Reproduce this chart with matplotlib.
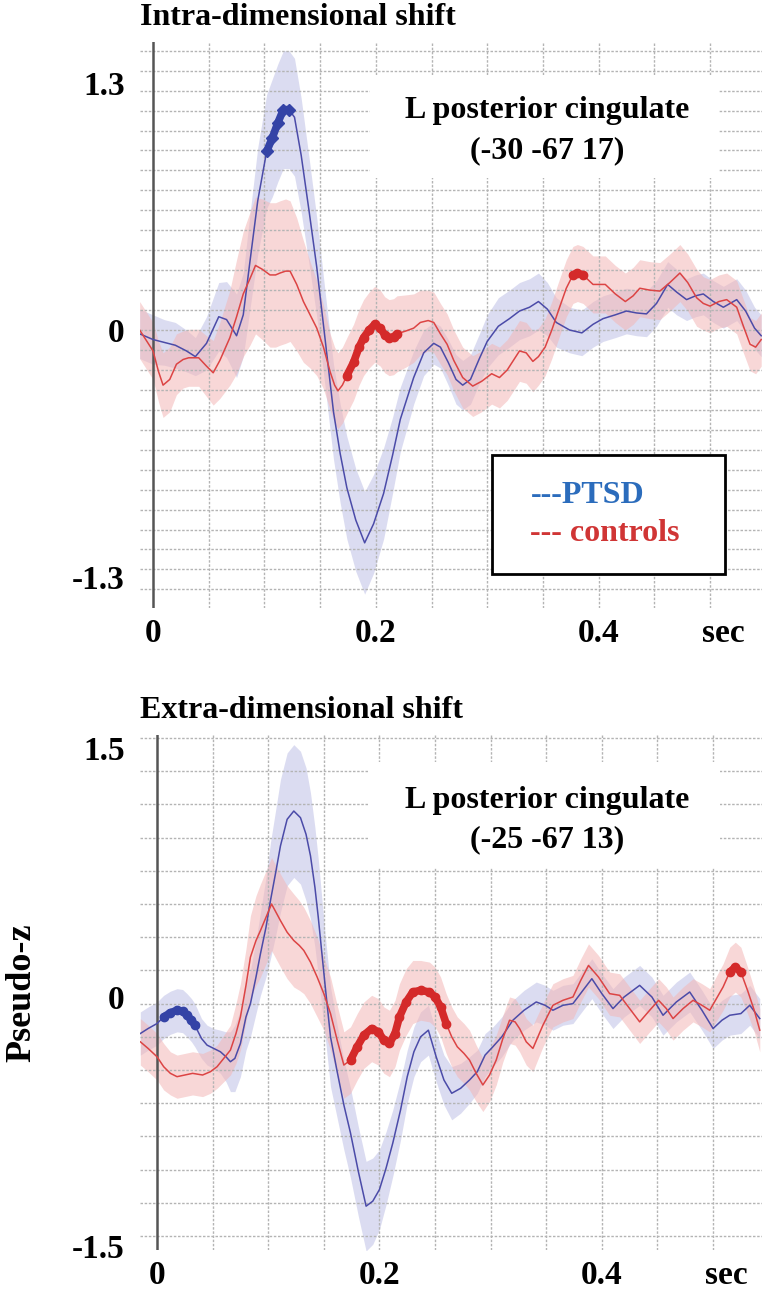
import matplotlib.pyplot as plt
from matplotlib.patches import Rectangle
import numpy as np

plt.rcParams['font.family'] = ['Liberation Serif', 'DejaVu Serif']
plt.rcParams['font.weight'] = 'bold'

# ---------------- Intra-dimensional shift ----------------
ids_ptsd_t = [-0.012, 0.000, 0.010, 0.020, 0.030, 0.038, 0.048, 0.059, 0.066, 0.075,
              0.081, 0.087, 0.094, 0.102, 0.107, 0.112, 0.117, 0.122, 0.127, 0.133,
              0.140, 0.147, 0.155, 0.162, 0.168, 0.174, 0.182, 0.190, 0.198, 0.207,
              0.215, 0.222, 0.234, 0.243, 0.252, 0.258, 0.265, 0.272, 0.278, 0.285,
              0.293, 0.300, 0.310, 0.320, 0.329, 0.338, 0.346, 0.354, 0.362, 0.374,
              0.385, 0.395, 0.404, 0.415, 0.425, 0.434, 0.443, 0.452, 0.462, 0.470,
              0.479, 0.487, 0.494, 0.503, 0.512, 0.518, 0.524, 0.532, 0.540, 0.546]
ids_ptsd_v = [-0.02, -0.05, -0.065, -0.08, -0.11, -0.14, -0.07, 0.07, 0.055, -0.03,
              0.08, 0.36, 0.68, 0.94, 1.01, 1.09, 1.16, 1.16, 1.12, 0.92,
              0.63, 0.33, -0.075, -0.43, -0.65, -0.83, -1.0, -1.12, -1.02, -0.86,
              -0.66, -0.47, -0.25, -0.12, -0.07, -0.09, -0.17, -0.26, -0.29, -0.26,
              -0.15, -0.06, 0.02, 0.06, 0.10, 0.12, 0.15, 0.11, 0.04, 0.0,
              -0.015, 0.03, 0.06, 0.08, 0.10, 0.09, 0.085, 0.14, 0.24, 0.20,
              0.16, 0.18, 0.19, 0.15, 0.12, 0.14, 0.16, 0.10, 0.01, -0.03]
ids_ptsd_se = [0.13, 0.13, 0.12, 0.12, 0.11, 0.10, 0.14, 0.18, 0.20, 0.22,
               0.22, 0.25, 0.28, 0.30, 0.31, 0.31, 0.31, 0.31, 0.31, 0.30,
               0.28, 0.26, 0.25, 0.25, 0.26, 0.27, 0.27, 0.27, 0.26, 0.24,
               0.20, 0.17, 0.14, 0.12, 0.11, 0.11, 0.12, 0.13, 0.13, 0.13,
               0.13, 0.14, 0.15, 0.15, 0.15, 0.15, 0.15, 0.14, 0.13, 0.12,
               0.12, 0.12, 0.12, 0.12, 0.12, 0.12, 0.12, 0.12, 0.12, 0.12,
               0.11, 0.11, 0.11, 0.11, 0.11, 0.11, 0.11, 0.11, 0.11, 0.11]

ids_ctrl_t = [-0.012, 0.000, 0.005, 0.009, 0.015, 0.021, 0.027, 0.032, 0.041, 0.048,
              0.054, 0.060, 0.069, 0.075, 0.081, 0.087, 0.092, 0.098, 0.105, 0.110,
              0.114, 0.119, 0.123, 0.129, 0.135, 0.141, 0.147, 0.153, 0.159, 0.163,
              0.166, 0.170, 0.174, 0.180, 0.185, 0.189, 0.194, 0.199, 0.204, 0.208,
              0.212, 0.216, 0.219, 0.227, 0.234, 0.240, 0.247, 0.252, 0.258, 0.264,
              0.270, 0.278, 0.287, 0.295, 0.304, 0.311, 0.318, 0.329, 0.335, 0.341,
              0.346, 0.352, 0.358, 0.365, 0.371, 0.377, 0.381, 0.386, 0.395, 0.406,
              0.415, 0.424, 0.431, 0.437, 0.446, 0.455, 0.464, 0.473, 0.480, 0.488,
              0.494, 0.500, 0.508, 0.515, 0.524, 0.530, 0.536, 0.541, 0.546]
ids_ctrl_v = [0.0, -0.11, -0.22, -0.29, -0.26, -0.18, -0.155, -0.146, -0.146, -0.19,
              -0.225, -0.16, -0.04, 0.07, 0.19, 0.27, 0.34, 0.32, 0.29, 0.29,
              0.30, 0.31, 0.31, 0.24, 0.15, 0.08, 0.01, -0.09, -0.22, -0.29,
              -0.32, -0.29, -0.24, -0.17, -0.09, -0.04, 0.0, 0.03, 0.01, -0.025,
              -0.04, -0.035, -0.02, -0.005, 0.01, 0.04, 0.05, 0.04, -0.02, -0.075,
              -0.16, -0.25, -0.295, -0.27, -0.23, -0.25, -0.21, -0.11, -0.12, -0.165,
              -0.14, -0.09, 0.0, 0.12, 0.22, 0.29, 0.30, 0.29, 0.24, 0.24,
              0.19, 0.15, 0.18, 0.22, 0.21, 0.205, 0.25, 0.30, 0.25, 0.17,
              0.14, 0.126, 0.15, 0.16, 0.12, 0.02, -0.075, -0.09, -0.05]
ids_ctrl_se = [0.15, 0.15, 0.16, 0.17, 0.17, 0.16, 0.15, 0.15, 0.15, 0.16,
               0.17, 0.20, 0.25, 0.30, 0.33, 0.35, 0.36, 0.37, 0.38, 0.38,
               0.38, 0.38, 0.37, 0.35, 0.32, 0.28, 0.25, 0.22, 0.20, 0.20,
               0.20, 0.20, 0.20, 0.20, 0.20, 0.20, 0.20, 0.20, 0.20, 0.20,
               0.20, 0.20, 0.20, 0.19, 0.18, 0.17, 0.16, 0.16, 0.16, 0.16,
               0.16, 0.16, 0.16, 0.16, 0.16, 0.16, 0.16, 0.16, 0.16, 0.16,
               0.15, 0.15, 0.15, 0.15, 0.15, 0.15, 0.15, 0.15, 0.15, 0.15,
               0.15, 0.15, 0.15, 0.15, 0.15, 0.15, 0.15, 0.15, 0.15, 0.15,
               0.14, 0.14, 0.14, 0.14, 0.14, 0.14, 0.14, 0.14, 0.14]

ids_ptsd_sig = [(0.102, 0.122)]
ids_ctrl_sig = [(0.174, 0.219), (0.377, 0.386)]

# ---------------- Extra-dimensional shift ----------------
eds_ptsd_t = [-0.015, -0.008, 0.000, 0.006, 0.012, 0.018, 0.023, 0.027, 0.031, 0.034,
              0.040, 0.045, 0.051, 0.057, 0.062, 0.066, 0.070, 0.075, 0.080, 0.084,
              0.089, 0.093, 0.098, 0.102, 0.107, 0.111, 0.117, 0.123, 0.129, 0.134,
              0.138, 0.142, 0.145, 0.148, 0.151, 0.156, 0.162, 0.168, 0.174, 0.181,
              0.188, 0.194, 0.200, 0.206, 0.212, 0.219, 0.225, 0.231, 0.237, 0.244,
              0.251, 0.258, 0.265, 0.273, 0.281, 0.288, 0.295, 0.302, 0.310, 0.320,
              0.330, 0.341, 0.349, 0.356, 0.365, 0.374, 0.383, 0.391, 0.400, 0.410,
              0.420, 0.434, 0.445, 0.455, 0.467, 0.479, 0.490, 0.500, 0.508, 0.515,
              0.525, 0.533, 0.542]
eds_ptsd_v = [-0.22, -0.19, -0.16, -0.12, -0.095, -0.08, -0.085, -0.11, -0.14, -0.17,
              -0.25, -0.29, -0.31, -0.33, -0.36, -0.39, -0.37, -0.28, -0.12, -0.04,
              0.12, 0.26, 0.42, 0.58, 0.76, 0.91, 1.07, 1.12, 1.08, 0.98,
              0.85, 0.66, 0.48, 0.28, 0.08, -0.24, -0.45, -0.65, -0.82, -1.05,
              -1.26, -1.23, -1.16, -1.03, -0.88, -0.68, -0.48, -0.33, -0.24, -0.20,
              -0.36, -0.50, -0.58, -0.55, -0.50, -0.45, -0.35, -0.30, -0.24, -0.14,
              -0.08, -0.03, -0.05, -0.08, -0.05, -0.04, 0.04, 0.11, 0.02, -0.07,
              0.0, 0.07, 0.0, -0.11, -0.03, 0.03, -0.08, -0.19, -0.14, -0.11,
              -0.10, -0.05, -0.13]
eds_ptsd_se = [0.13, 0.13, 0.13, 0.13, 0.13, 0.13, 0.13, 0.13, 0.13, 0.13,
               0.12, 0.12, 0.12, 0.13, 0.15, 0.18, 0.20, 0.20, 0.20, 0.20,
               0.22, 0.25, 0.30, 0.35, 0.38, 0.40, 0.40, 0.40, 0.40, 0.40,
               0.38, 0.36, 0.35, 0.33, 0.31, 0.30, 0.28, 0.27, 0.27, 0.27,
               0.27, 0.26, 0.24, 0.22, 0.20, 0.18, 0.16, 0.15, 0.15, 0.15,
               0.15, 0.15, 0.16, 0.15, 0.14, 0.13, 0.13, 0.12, 0.12, 0.12,
               0.12, 0.12, 0.12, 0.12, 0.12, 0.12, 0.12, 0.12, 0.12, 0.12,
               0.12, 0.12, 0.12, 0.12, 0.12, 0.12, 0.12, 0.12, 0.12, 0.12,
               0.12, 0.12, 0.12]

eds_ctrl_t = [-0.015, -0.008, 0.000, 0.006, 0.012, 0.018, 0.025, 0.032, 0.041, 0.048,
              0.054, 0.060, 0.066, 0.071, 0.075, 0.080, 0.084, 0.089, 0.093, 0.098,
              0.103, 0.107, 0.111, 0.117, 0.123, 0.128, 0.132, 0.138, 0.144, 0.150,
              0.156, 0.162, 0.168, 0.174, 0.180, 0.186, 0.193, 0.199, 0.204, 0.209,
              0.214, 0.218, 0.224, 0.230, 0.237, 0.245, 0.250, 0.255, 0.260, 0.265,
              0.270, 0.276, 0.281, 0.287, 0.293, 0.299, 0.305, 0.311, 0.317, 0.322,
              0.326, 0.332, 0.338, 0.347, 0.356, 0.365, 0.374, 0.381, 0.388, 0.397,
              0.407, 0.416, 0.425, 0.434, 0.443, 0.451, 0.458, 0.464, 0.473, 0.482,
              0.490, 0.497, 0.509, 0.515, 0.520, 0.525, 0.531, 0.537, 0.542]
eds_ctrl_v = [-0.27, -0.31, -0.36, -0.42, -0.46, -0.48, -0.47, -0.46, -0.47, -0.45,
              -0.42, -0.37, -0.32, -0.22, -0.12, 0.07, 0.24, 0.34, 0.40, 0.48,
              0.56, 0.51, 0.46, 0.39, 0.34, 0.31, 0.28, 0.21, 0.12, 0.02,
              -0.10, -0.26, -0.41, -0.38, -0.30, -0.23, -0.19, -0.21, -0.26, -0.28,
              -0.22, -0.12, -0.03, 0.03, 0.04, 0.03, 0.0, -0.06, -0.16, -0.24,
              -0.30, -0.34, -0.38, -0.46, -0.53, -0.47, -0.38, -0.25, -0.14, -0.15,
              -0.19, -0.27, -0.31, -0.17, -0.05, -0.02, 0.0, 0.10, 0.19, 0.12,
              0.02, 0.01, -0.07, -0.15, -0.08, -0.02, -0.07, -0.13, -0.07, -0.02,
              -0.05, -0.08, 0.06, 0.15, 0.18, 0.15, 0.04, -0.08, -0.20]
eds_ctrl_se = [0.14, 0.14, 0.14, 0.14, 0.13, 0.13, 0.13, 0.13, 0.13, 0.13,
               0.13, 0.14, 0.15, 0.18, 0.20, 0.22, 0.25, 0.27, 0.28, 0.28,
               0.28, 0.28, 0.28, 0.28, 0.28, 0.27, 0.26, 0.25, 0.24, 0.22,
               0.22, 0.21, 0.20, 0.20, 0.20, 0.20, 0.20, 0.20, 0.20, 0.20,
               0.20, 0.20, 0.20, 0.19, 0.18, 0.18, 0.18, 0.18, 0.18, 0.18,
               0.18, 0.18, 0.18, 0.17, 0.16, 0.16, 0.15, 0.14, 0.14, 0.14,
               0.14, 0.14, 0.14, 0.13, 0.13, 0.13, 0.13, 0.13, 0.13, 0.13,
               0.13, 0.13, 0.13, 0.13, 0.13, 0.13, 0.13, 0.13, 0.13, 0.13,
               0.13, 0.13, 0.14, 0.15, 0.15, 0.15, 0.14, 0.13, 0.13]

eds_ptsd_sig = [(0.006, 0.034)]
eds_ctrl_sig = [(0.174, 0.260), (0.515, 0.525)]

x_ticks = [0, 0.2, 0.4, 0.512]
x_ticklabels = ['0', '0.2', '0.4', 'sec']

PTSD_LINE = '#4b4ba8'
PTSD_MARK = '#3443a6'
PTSD_BAND = '#bfc0e6'
CTRL_LINE = '#dc4444'
CTRL_MARK = '#d42a2a'
CTRL_BAND = '#f3b6b6'
GRID = '#b4b4b4'


def draw_group(ax, t, v, se, sig, line_c, mark_c, band_c, marker):
    t = np.array(t)
    v = np.array(v)
    se = np.array(se)
    ax.fill_between(t, v - se, v + se, color=band_c, alpha=0.55, lw=0, zorder=1)
    ln, = ax.plot(t, v, color=line_c, lw=1.1, zorder=3)
    for a, b in sig:
        m = (t >= a - 1e-9) & (t <= b + 1e-9)
        ax.plot(t[m], v[m], color=mark_c, lw=5.5, marker=marker, ms=6,
                solid_capstyle='round', zorder=4)
    return ln


def setup_panel(ax, xlim, ylim, hgrid, box, yticks, ytl, title):
    ax.set_xlim(*xlim)
    ax.set_ylim(*ylim)
    for s in ax.spines.values():
        s.set_visible(False)
    for y in hgrid:
        ax.axhline(y, color=GRID, lw=1.0, dashes=(1.8, 1.2), zorder=1.5)
    for x in np.arange(1, 11) * 0.05:
        ax.axvline(x, color=GRID, lw=1.0, dashes=(1.8, 1.2), zorder=1.5)
    ax.add_patch(Rectangle((box[0], box[1]), box[2], box[3], facecolor='white',
                           edgecolor='none', zorder=2))
    ax.axvline(0, color='#555555', lw=1.8, zorder=2.5)
    ax.set_yticks(yticks)
    ax.set_yticklabels(ytl)
    ax.set_xticks(x_ticks)
    ax.set_xticklabels(x_ticklabels)
    ax.tick_params(axis='y', length=0, pad=11, labelsize=24)
    ax.tick_params(axis='x', length=0, pad=7, labelsize=24)
    ax.set_title(title, loc='left', fontsize=23, fontweight='bold', pad=12)


fig = plt.figure(figsize=(7.65, 12.93), dpi=100)
ax1 = fig.add_axes([140 / 765, 1 - 608 / 1293, 622 / 765, 566 / 1293])
ax2 = fig.add_axes([140 / 765, 1 - 1250 / 1293, 622 / 765, 515 / 1293])

# top panel
setup_panel(ax1, (-0.0117, 0.5467), (-1.463, 1.516),
            np.arange(-13, 15) * 0.105, (0.195, 0.80, 0.312, 0.54),
            [-1.3, 0, 1.3], ['-1.3', '0', '1.3'], 'Intra-dimensional shift')
l1 = draw_group(ax1, ids_ptsd_t, ids_ptsd_v, ids_ptsd_se, ids_ptsd_sig,
                PTSD_LINE, PTSD_MARK, PTSD_BAND, 'D')
l2 = draw_group(ax1, ids_ctrl_t, ids_ctrl_v, ids_ctrl_se, ids_ctrl_sig,
                CTRL_LINE, CTRL_MARK, CTRL_BAND, 'o')
ax1.text(0.3537, 1.116, 'L posterior cingulate', ha='center', va='baseline',
         fontsize=23, fontweight='bold', zorder=5)
ax1.text(0.3537, 0.905, '(-30 -67 17)', ha='center', va='baseline',
         fontsize=23, fontweight='bold', zorder=5)

leg = ax1.legend([l1, l2], ['---PTSD', '--- controls'], loc='upper left',
                 bbox_to_anchor=(0.566, 0.060, 0.375, 0.2103), mode='expand',
                 borderaxespad=0, borderpad=0.8, labelspacing=0.28,
                 handlelength=0.4, handletextpad=0, fontsize=23,
                 fancybox=False, framealpha=1, edgecolor='black')
leg.get_frame().set_linewidth(2)
leg.set_zorder(6)
for h in leg.legend_handles:
    h.set_visible(False)
for txt, c in zip(leg.get_texts(), ['#2b6cbc', '#d03535']):
    txt.set_color(c)

# bottom panel
setup_panel(ax2, (-0.0153, 0.544), (-1.524, 1.578),
            -1.44 + np.arange(0, 16) * 0.2, (0.19, 0.777, 0.316, 0.639),
            [-1.5, 0, 1.5], ['-1.5', '0', '1.5'], 'Extra-dimensional shift')
draw_group(ax2, eds_ptsd_t, eds_ptsd_v, eds_ptsd_se, eds_ptsd_sig,
           PTSD_LINE, PTSD_MARK, PTSD_BAND, 'o')
draw_group(ax2, eds_ctrl_t, eds_ctrl_v, eds_ctrl_se, eds_ctrl_sig,
           CTRL_LINE, CTRL_MARK, CTRL_BAND, 'o')
ax2.text(0.3507, 1.139, 'L posterior cingulate', ha='center', va='baseline',
         fontsize=23, fontweight='bold', zorder=5)
ax2.text(0.3507, 0.904, '(-25 -67 13)', ha='center', va='baseline',
         fontsize=23, fontweight='bold', zorder=5)

ax2.set_ylabel('Pseudo-z', fontsize=26, fontweight='bold')
ax2.yaxis.label.set_verticalalignment('center')
ax2.yaxis.set_label_coords(-0.19, 0.499)

fig.savefig('out.png', dpi=100, facecolor='white')
